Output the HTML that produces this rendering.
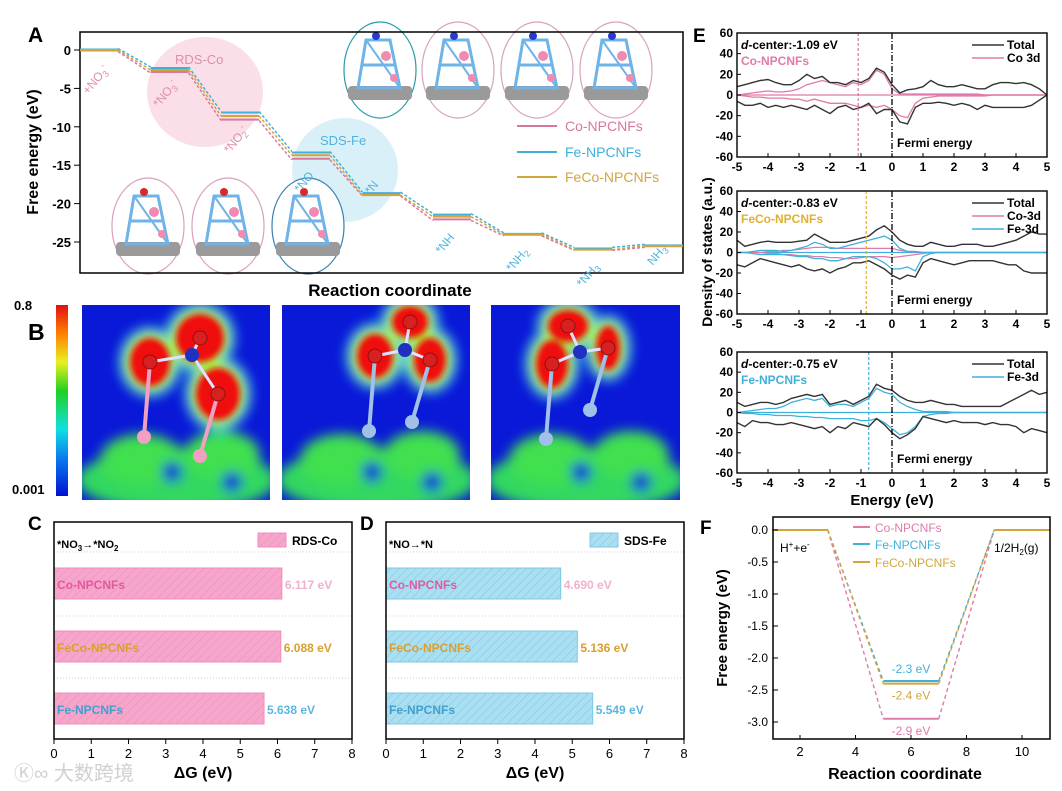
<!DOCTYPE html>
<html><head><meta charset="utf-8"><style>
html,body{margin:0;padding:0;background:#fff}
svg{display:block;font-family:"Liberation Sans","Noto Sans CJK SC",sans-serif}
.b{font-weight:bold}
</style></head><body>
<svg id="fig" xmlns="http://www.w3.org/2000/svg" width="1062" height="791" viewBox="0 0 1062 791">
<defs>
<pattern id="hatchP" patternUnits="userSpaceOnUse" width="6" height="6" patternTransform="rotate(45)"><rect width="6" height="6" fill="#f7a6cb"/><line x1="0" y1="0" x2="0" y2="6" stroke="#e98cb6" stroke-width="1"/></pattern>
<pattern id="hatchB" patternUnits="userSpaceOnUse" width="6" height="6" patternTransform="rotate(45)"><rect width="6" height="6" fill="#aadff2"/><line x1="0" y1="0" x2="0" y2="6" stroke="#78c6e4" stroke-width="1"/></pattern>
<linearGradient id="cbar" x1="0" y1="1" x2="0" y2="0">
<stop offset="0" stop-color="#0010d0"/><stop offset="0.2" stop-color="#0a7cf0"/><stop offset="0.35" stop-color="#10e0e0"/><stop offset="0.55" stop-color="#20d020"/><stop offset="0.7" stop-color="#e8f020"/><stop offset="0.85" stop-color="#ff8000"/><stop offset="1" stop-color="#e01010"/></linearGradient>
<filter id="blur6"><feGaussianBlur stdDeviation="6"/></filter>
<filter id="blur3"><feGaussianBlur stdDeviation="3"/></filter>
<clipPath id="clipA"><rect x="80" y="32" width="603" height="241"/></clipPath>
<clipPath id="cm1"><rect x="82" y="305" width="188" height="195"/></clipPath>
<clipPath id="cm2"><rect x="282" y="305" width="188" height="195"/></clipPath>
<clipPath id="cm3"><rect x="491" y="305" width="189" height="195"/></clipPath>
</defs>
<g id="panelA"></g>
<g id="panelB"></g>
<g id="panelC"></g>
<g id="panelD"></g>
<g id="panelE"></g>
<g id="panelF"></g>
<text x="14" y="780" font-size="20" fill="#d0d0d0">Ⓚ∞ 大数跨境</text>
</svg>
<script>
// ---------- DATA ----------
const stepsA = ["+NO3-","*NO3-","*NO2-","*NO","*N","*NH","*NH2","*NH3","NH3"];
const coA   = [0,-2.8,-9.0,-14.1,-18.8,-22.0,-24.0,-25.9,-25.5];
const feA   = [0,-2.4,-8.2,-13.4,-18.7,-21.5,-24.0,-25.9,-25.5];
const fecoA = [0,-2.6,-8.6,-13.7,-18.9,-21.7,-24.0,-26.0,-25.5];
const ticksA = [0,-5,-10,-15,-20,-25];

const barCats = ["Co-NPCNFs","FeCo-NPCNFs","Fe-NPCNFs"];
const barC = [6.117,6.088,5.638];
const barD = [4.690,5.136,5.549];
const barTicks = [0,1,2,3,4,5,6,7,8];

const dosX = [-5,-4.75,-4.5,-4.25,-4,-3.75,-3.5,-3.25,-3,-2.75,-2.5,-2.25,-2,-1.75,-1.5,-1.25,-1,-0.75,-0.5,-0.25,0,0.25,0.5,0.75,1,1.25,1.5,1.75,2,2.25,2.5,2.75,3,3.25,3.5,3.75,4,4.25,4.5,4.75,5];
const totUp1 = [8,10,12,14,15,12,10,10,14,20,16,18,12,12,10,14,12,16,26,22,10,2,5,6,8,14,10,8,8,10,8,6,6,10,12,12,11,12,10,6,0];
const totDn1 = [-6,-10,-10,-8,-12,-10,-12,-10,-12,-14,-10,-14,-18,-12,-10,-14,-12,-8,-18,-14,-14,-26,-28,-12,-8,-8,-7,-8,-10,-8,-10,-14,-10,-12,-12,-12,-12,-12,-10,-5,0];
const coUp1 = [0,1,2,3,4,3,3,4,6,10,12,14,12,10,8,12,10,14,24,20,6,1,1,1,1,1,1,1,1,1,1,1,0,0,0,0,0,0,0,0,0];
const coDn1 = [0,-1,-2,-2,-3,-3,-3,-4,-4,-6,-4,-6,-8,-8,-8,-10,-12,-10,-12,-10,-14,-20,-22,-8,-3,-2,-1,-1,-1,-1,-1,-1,-1,0,0,0,0,0,0,0,0];
const totUp2 = [12,6,8,10,11,10,10,10,11,12,18,14,10,10,10,12,14,16,22,26,20,12,8,6,6,10,8,6,6,8,8,8,6,6,8,10,12,16,20,18,18];
const totDn2 = [-12,-14,-10,-6,-8,-10,-12,-14,-12,-16,-18,-16,-20,-16,-14,-10,-10,-8,-12,-16,-22,-26,-22,-24,-10,-6,-8,-10,-12,-10,-8,-8,-8,-8,-10,-12,-12,-18,-20,-20,-20];
const feUp2 = [0,0,1,2,2,2,1,2,4,6,10,8,4,4,6,8,10,12,14,16,12,4,1,1,0,0,0,0,0,0,0,0,0,0,0,0,0,0,0,0,0];
const feDn2 = [0,0,-1,-2,-2,-2,-2,-3,-4,-4,-6,-6,-8,-8,-6,-4,-4,-4,-6,-10,-16,-16,-14,-18,-4,-1,0,0,0,0,0,0,0,0,0,0,0,0,0,0,0];
const coUp2 = [0,0,0,0,1,1,2,2,3,4,5,5,5,4,4,4,4,4,4,4,4,2,1,1,0,0,0,0,0,0,0,0,0,0,0,0,0,0,0,0,0];
const coDn2 = [0,0,0,0,-1,-1,-2,-2,-3,-3,-4,-4,-5,-5,-6,-6,-5,-4,-4,-4,-5,-4,-3,-2,-1,0,0,0,0,0,0,0,0,0,0,0,0,0,0,0,0];
const totUp3 = [10,6,8,10,10,8,10,14,16,18,16,18,8,10,12,8,12,16,28,24,22,16,12,10,10,12,10,8,8,6,6,6,6,6,6,10,14,18,22,18,20];
const totDn3 = [-10,-14,-8,-10,-10,-12,-12,-10,-12,-14,-16,-14,-20,-14,-16,-10,-12,-14,-6,-12,-20,-26,-22,-16,-4,-6,-8,-10,-8,-10,-10,-10,-12,-10,-12,-12,-14,-20,-16,-18,-20];
const feUp3 = [0,1,2,3,4,4,6,10,12,14,12,14,6,8,8,6,10,14,24,20,18,10,6,3,1,1,1,1,0,0,0,0,0,0,0,0,0,0,0,0,0];
const feDn3 = [0,-1,-1,-2,-2,-3,-3,-3,-4,-4,-5,-5,-6,-6,-6,-6,-8,-8,-6,-10,-16,-22,-20,-14,-4,-2,-1,-1,0,0,0,0,0,0,0,0,0,0,0,0,0];
const dCenters = [-1.09,-0.83,-0.75];
const dosYTicks = [60,40,20,0,-20,-40,-60];
const dosXTicks = [-5,-4,-3,-2,-1,0,1,2,3,4,5];

const herX = [1,3,5,7,9,11];
const herCo = [0,0,-2.95,-2.95,0,0];
const herFe = [0,0,-2.36,-2.36,0,0];
const herFeCo = [0,0,-2.4,-2.4,0,0];
const herLabels = ["-2.3 eV","-2.4 eV","-2.9 eV"];
const herYTicks = [0,-0.5,-1,-1.5,-2,-2.5,-3];
const herXTicks = [2,4,6,8,10];

// ---------- HELPERS ----------
const NS="http://www.w3.org/2000/svg";
function mk(parent,tag,attrs,text){const e=document.createElementNS(NS,tag);for(const k in attrs)e.setAttribute(k,attrs[k]);if(text!==undefined)e.innerHTML=text;parent.appendChild(e);return e;}
const PINK="#d9789f",BLUE="#3fb0da",GOLD="#d2a63a";

// ---------- PANEL A ----------
const A=document.getElementById('panelA');
const ayS=v=>50+(-v)*(192/25);
const axS=i=>80+i*70.6;
mk(A,'ellipse',{cx:205,cy:92,rx:58,ry:55,fill:"#f9dbe6",opacity:0.9});
mk(A,'ellipse',{cx:345,cy:170,rx:53,ry:52,fill:"#d6eef8",opacity:0.9});
let t;
t=mk(A,'text',{x:175,y:64,'font-size':13,fill:"#e08cb0"},"RDS-Co");

t=mk(A,'text',{x:320,y:145,'font-size':13,fill:"#4fb4dc"},"SDS-Fe");

const molTop=[[380,70,"#2a9aa8"],[458,70,"#d8a0c0"],[537,70,"#d8a0c0"],[616,70,"#d8a0c0"]];
const molBot=[[148,226,"#d8a0c0"],[228,226,"#d8a0c0"],[308,226,"#3a7fb0"]];
[...molTop,...molBot].forEach((m,i)=>{
  const g=mk(A,'g',{});
  
  
  mk(g,'ellipse',{cx:m[0],cy:m[1],rx:36,ry:48,fill:"#fff",stroke:m[2],'stroke-width':1.2});
  mk(g,'rect',{x:m[0]-32,y:m[1]+16,width:64,height:14,fill:"#9a9a9a",rx:4});
  mk(g,'polygon',{points:`${m[0]-22},${m[1]+18} ${m[0]-14},${m[1]-30} ${m[0]+10},${m[1]-30} ${m[0]+20},${m[1]+18}`,fill:"none",stroke:"#6fb4e8",'stroke-width':3});
  mk(g,'line',{x1:m[0]-18,y1:m[1]-5,x2:m[0]+16,y2:m[1]-5,stroke:"#6fb4e8",'stroke-width':3});
  mk(g,'line',{x1:m[0]-14,y1:m[1]-30,x2:m[0]+20,y2:m[1]+18,stroke:"#6fb4e8",'stroke-width':2});
  mk(g,'circle',{cx:m[0]+6,cy:m[1]-14,r:5,fill:"#ef8ab0"});
  mk(g,'circle',{cx:m[0]+14,cy:m[1]+8,r:4,fill:"#ef8ab0"});
  mk(g,'circle',{cx:m[0]-4,cy:m[1]-34,r:4,fill:i>=4?"#d82a2a":"#2a3ad0"});
});
mk(A,'rect',{x:80,y:32,width:603,height:241,fill:"none",stroke:"#000",'stroke-width':1.5});
ticksA.forEach(v=>{
  mk(A,'line',{x1:74,y1:ayS(v),x2:80,y2:ayS(v),stroke:"#000"});
  t=mk(A,'text',{x:71,y:ayS(v)+5,'font-size':13,'text-anchor':'end',class:'b'},v);
  
});
const gA=mk(A,'g',{'clip-path':'url(#clipA)'});
[[coA,PINK,1.5],[feA,BLUE,-1.5],[fecoA,GOLD,0]].forEach(([s,c,o])=>{
  for(let i=0;i<s.length;i++){
    const l=mk(gA,'line',{x1:axS(i),y1:ayS(s[i])+o*0.3,x2:axS(i)+38,y2:ayS(s[i])+o*0.3,stroke:c,'stroke-width':2});
    
    if(i<s.length-1){
      const d=mk(gA,'line',{x1:axS(i)+38,y1:ayS(s[i])+o,x2:axS(i+1),y2:ayS(s[i+1])+o,stroke:c,'stroke-width':1.5,'stroke-dasharray':'3,2'});
      
    }
  }
});
const stepLabelsA=["+NO<tspan dy='3' font-size='9'>3</tspan><tspan dy='-8' font-size='9'>-</tspan>","*NO<tspan dy='3' font-size='9'>3</tspan><tspan dy='-8' font-size='9'>-</tspan>","*NO<tspan dy='3' font-size='9'>2</tspan><tspan dy='-8' font-size='9'>-</tspan>","*NO","*N","*NH","*NH<tspan dy='3' font-size='9'>2</tspan>","*NH<tspan dy='3' font-size='9'>3</tspan>","NH<tspan dy='3' font-size='9'>3</tspan>"];
stepLabelsA.forEach((s,i)=>{
  const x=axS(i)+8, y=ayS(fecoA[i])+ (i==0?45:i==8?20:i==4?-0:38);
  t=mk(A,'text',{x:x,y:y,'font-size':12,fill:i<3?"#e08cb0":"#4fb4dc",transform:`rotate(-50 ${x} ${y})`},s);
  
});
[["Co-NPCNFs",PINK,126],["Fe-NPCNFs",BLUE,152],["FeCo-NPCNFs",GOLD,177]].forEach(([n,c,y])=>{
  const g=mk(A,'g',{});
  mk(g,'line',{x1:517,y1:y,x2:557,y2:y,stroke:c,'stroke-width':2});
  mk(g,'text',{x:565,y:y+5,'font-size':14,fill:c},n);
});
t=mk(A,'text',{x:0,y:0,'font-size':16,class:'b',transform:'translate(38,152) rotate(-90)','text-anchor':'middle'},"Free energy (eV)");

t=mk(A,'text',{x:390,y:296,'font-size':17,class:'b','text-anchor':'middle'},"Reaction coordinate");

mk(A,'text',{x:28,y:42,'font-size':21,class:'b'},"A");

// ---------- PANEL B ----------
const B=document.getElementById('panelB');
mk(B,'rect',{x:56,y:305,width:12,height:191,fill:'url(#cbar)'});
mk(B,'text',{x:14,y:310,'font-size':13,class:'b'},"0.8");
mk(B,'text',{x:12,y:494,'font-size':13,class:'b'},"0.001");
mk(B,'text',{x:28,y:340,'font-size':23,class:'b'},"B");
const maps=[
 [82,"cm1",[[200,338,24,24],[150,362,20,24],[218,394,22,26]],"#f0a0c0",[192,355]],
 [282,"cm2",[[410,322,18,16],[375,356,18,22],[430,360,16,22]],"#a0c0e8",[405,350]],
 [491,"cm3",[[568,326,20,16],[552,364,16,24],[608,348,12,22]],"#a0c0e8",[580,352]]];
maps.forEach(([x0,cp,lobes,ac,nc])=>{
  const g=mk(B,'g',{'clip-path':`url(#${cp})`});
  
  mk(g,'rect',{x:x0,y:305,width:189,height:195,fill:"#0a18d8"});
  const gb=mk(g,'g',{filter:'url(#blur6)'});
  mk(gb,'ellipse',{cx:x0+95,cy:480,rx:100,ry:32,fill:"#30d860"});
  mk(gb,'ellipse',{cx:x0+60,cy:460,rx:42,ry:26,fill:"#40e050"});
  mk(gb,'ellipse',{cx:x0+140,cy:455,rx:38,ry:24,fill:"#40e050"});
  mk(gb,'circle',{cx:x0+90,cy:472,r:10,fill:"#0a18d8"});
  mk(gb,'circle',{cx:x0+150,cy:482,r:10,fill:"#0a18d8"});
  lobes.forEach(([cx,cy,rx,ry])=>mk(gb,'ellipse',{cx:cx,cy:cy,rx:rx+11,ry:ry+11,fill:"#20c8e0"}));
  lobes.forEach(([cx,cy,rx,ry])=>mk(gb,'ellipse',{cx:cx,cy:cy,rx:rx+5,ry:ry+5,fill:"#b0f020"}));
  const gr=mk(g,'g',{filter:'url(#blur3)'});
  lobes.forEach(([cx,cy,rx,ry])=>mk(gr,'ellipse',{cx:cx,cy:cy,rx:rx,ry:ry,fill:"#f01010"}));
  mk(g,'line',{x1:lobes[1][0],y1:lobes[1][1],x2:lobes[1][0]-6,y2:lobes[1][1]+75,stroke:ac,'stroke-width':4});
  mk(g,'circle',{cx:lobes[1][0]-6,cy:lobes[1][1]+75,r:7,fill:ac});
  mk(g,'line',{x1:lobes[2][0],y1:lobes[2][1],x2:lobes[2][0]-18,y2:lobes[2][1]+62,stroke:ac,'stroke-width':4});
  mk(g,'circle',{cx:lobes[2][0]-18,cy:lobes[2][1]+62,r:7,fill:ac});
  lobes.forEach(([cx,cy])=>mk(g,'line',{x1:nc[0],y1:nc[1],x2:cx,y2:cy,stroke:"#e0e0ff",'stroke-width':3}));
  mk(g,'circle',{cx:nc[0],cy:nc[1],r:7,fill:"#2030c0"});
  lobes.forEach(([cx,cy])=>mk(g,'circle',{cx:cx,cy:cy,r:7,fill:"#d82020",stroke:"#901010"}));
});

// ---------- PANELS C & D ----------
function barPanel(el,x0,x1,vals,fill,legend,title,letter){
  const xs=v=>x0+(x1-x0)*v/8;
  const y0=522,y1=739;
  const cat=[["#e05aa0",568],["#d8a030",631],["#3fa0d0",693]];
  vals.forEach((v,i)=>{
    const r=mk(el,'rect',{x:xs(0),y:cat[i][1],width:xs(v)-xs(0),height:31,fill:fill,stroke:fill=="url(#hatchP)"?"#f08cbc":"#7cc8e6"});
    
    mk(el,'text',{x:xs(0)+3,y:cat[i][1]+21,'font-size':12,class:'b',fill:cat[i][0]},barCats[i]);
    const tv=mk(el,'text',{x:xs(v)+3,y:cat[i][1]+21,'font-size':12,class:'b',fill:i==0?"#f0b0d0":i==1?"#d8a030":"#5ab8e0"},v.toFixed(3)+" eV");
    
  });
  [552,616,678].forEach(y=>mk(el,'line',{x1:x0,y1:y,x2:x1,y2:y,stroke:"#ccc",'stroke-dasharray':'1,2'}));
  mk(el,'rect',{x:x0,y:y0,width:x1-x0,height:y1-y0,fill:"none",stroke:"#000",'stroke-width':1.5});
  barTicks.forEach(v=>{
    mk(el,'line',{x1:xs(v),y1:y1,x2:xs(v),y2:y1+5,stroke:"#000"});
    const tt=mk(el,'text',{x:xs(v),y:y1+19,'font-size':13,'text-anchor':'middle'},v);
    
  });
  mk(el,'rect',{x:x1-94,y:533,width:28,height:14,fill:fill,stroke:fill=="url(#hatchP)"?"#f08cbc":"#7cc8e6"});
  mk(el,'text',{x:x1-60,y:545,'font-size':12,class:'b'},legend);
  mk(el,'text',{x:x0+3,y:548,'font-size':11,class:'b'},title);
  const at=mk(el,'text',{x:(x0+x1)/2,y:778,'font-size':16,class:'b','text-anchor':'middle'},"ΔG (eV)");
  
  mk(el,'text',{x:x0-26,y:530,'font-size':19,class:'b'},letter);
}
barPanel(document.getElementById('panelC'),54,352,barC,"url(#hatchP)","RDS-Co","*NO<tspan dy='3' font-size='8'>3</tspan><tspan dy='-3'>→*NO</tspan><tspan dy='3' font-size='8'>2</tspan>","C");
barPanel(document.getElementById('panelD'),386,684,barD,"url(#hatchB)","SDS-Fe","*NO→*N","D");

// ---------- PANEL E ----------
const E=document.getElementById('panelE');
const ex=v=>737+(v+5)*31;
const subs=[
 {top:33,bot:157,tot:[totUp1,totDn1],parts:[[coUp1,coDn1,"#e07aa8"]],dc:dCenters[0],dcC:"#d07aa8",name:"Co-NPCNFs",nameC:"#e07aa8",leg:[["Total","#333"],["Co 3d","#e07aa8"]]},
 {top:191,bot:314,tot:[totUp2,totDn2],parts:[[coUp2,coDn2,"#e07aa8"],[feUp2,feDn2,"#3fb0da"]],dc:dCenters[1],dcC:"#e0b030",name:"FeCo-NPCNFs",nameC:"#e0b030",leg:[["Total","#333"],["Co-3d","#e07aa8"],["Fe-3d","#3fb0da"]]},
 {top:352,bot:473,tot:[totUp3,totDn3],parts:[[feUp3,feDn3,"#3fb0da"]],dc:dCenters[2],dcC:"#3fb0da",name:"Fe-NPCNFs",nameC:"#3fb0da",leg:[["Total","#333"],["Fe-3d","#3fb0da"]]}
];
subs.forEach((s,k)=>{
  const g=mk(E,'g',{});
  const ys=v=>s.top+(60-v)*(s.bot-s.top)/120;
  const path=arr=>arr.map((v,i)=>(i?'L':'M')+ex(dosX[i]).toFixed(1)+','+ys(v).toFixed(1)).join('');
  mk(g,'line',{x1:737,y1:ys(0),x2:1047,y2:ys(0),stroke:s.parts[s.parts.length-1][2],'stroke-width':1.2});
  s.parts.forEach(([u,d,c])=>{
    const p1=mk(g,'path',{d:path(u),fill:"none",stroke:c,'stroke-width':1.3});
    const p2=mk(g,'path',{d:path(d),fill:"none",stroke:c,'stroke-width':1.3});
  });
  const t1=mk(g,'path',{d:path(s.tot[0]),fill:"none",stroke:"#333",'stroke-width':1.4});
  const t2=mk(g,'path',{d:path(s.tot[1]),fill:"none",stroke:"#333",'stroke-width':1.4});
  const dl=mk(g,'line',{x1:ex(s.dc),y1:s.top,x2:ex(s.dc),y2:s.bot,stroke:s.dcC,'stroke-dasharray':'3,2','stroke-width':1.2});
  
  mk(g,'line',{x1:ex(0),y1:s.top,x2:ex(0),y2:s.bot,stroke:"#000",'stroke-dasharray':'6,2,1,2','stroke-width':1.3});
  mk(g,'rect',{x:737,y:s.top,width:310,height:s.bot-s.top,fill:"none",stroke:"#000",'stroke-width':1.4});
  dosYTicks.forEach(v=>{
    mk(g,'line',{x1:737,y1:ys(v),x2:741,y2:ys(v),stroke:"#000"});
    const tt=mk(g,'text',{x:733,y:ys(v)+4,'font-size':12,class:'b','text-anchor':'end'},v);
    
  });
  dosXTicks.forEach(v=>{
    mk(g,'line',{x1:ex(v),y1:s.bot,x2:ex(v),y2:s.bot-4,stroke:"#000"});
    const tt=mk(g,'text',{x:ex(v),y:s.bot+14,'font-size':12,class:'b','text-anchor':'middle'},v);
    
  });
  mk(g,'text',{x:741,y:s.top+16,'font-size':12,class:'b'},"<tspan font-style='italic'>d</tspan>-center:"+s.dc.toFixed(2)+" eV");
  mk(g,'text',{x:741,y:s.top+32,'font-size':12,class:'b',fill:s.nameC},s.name);
  mk(g,'text',{x:ex(0)+5,y:s.bot-10,'font-size':12,class:'b'},"Fermi energy");
  s.leg.forEach(([n,c],j)=>{
    const lg=mk(g,'g',{});
    mk(lg,'line',{x1:972,y1:s.top+12+j*13,x2:1004,y2:s.top+12+j*13,stroke:c,'stroke-width':1.5});
    mk(lg,'text',{x:1007,y:s.top+16+j*13,'font-size':12,class:'b'},n);
  });
});
t=mk(E,'text',{x:0,y:0,'font-size':14,class:'b','text-anchor':'middle',transform:'translate(712,252) rotate(-90)'},"Density of states (a.u.)");

t=mk(E,'text',{x:892,y:505,'font-size':15,class:'b','text-anchor':'middle'},"Energy (eV)");

mk(E,'text',{x:693,y:42,'font-size':19,class:'b'},"E");

// ---------- PANEL F ----------
const F=document.getElementById('panelF');
const fx=v=>800+(v-2)*27.75;
const fy=v=>530+(-v)*64;
[[herCo,"#e07aa8"],[herFe,"#3fb0da"],[herFeCo,"#d2a63a"]].forEach(([s,c])=>{
  for(let i=0;i<s.length-1;i++){
    const solid=(i%2==0);
    const l=mk(F,'line',{x1:fx(herX[i]),y1:fy(s[i]),x2:fx(herX[i+1]),y2:fy(s[i+1]),stroke:c,'stroke-width':solid?2:1.4,'stroke-dasharray':solid?'none':'4,3'});
    
  }
});
mk(F,'rect',{x:773,y:517,width:277,height:222,fill:"none",stroke:"#000",'stroke-width':1.5});
herYTicks.forEach(v=>{
  mk(F,'line',{x1:773,y1:fy(v),x2:778,y2:fy(v),stroke:"#000"});
  const tt=mk(F,'text',{x:768,y:fy(v)+4,'font-size':12,'text-anchor':'end'},v.toFixed(1));
  
});
herXTicks.forEach(v=>{
  mk(F,'line',{x1:fx(v),y1:739,x2:fx(v),y2:735,stroke:"#000"});
  const tt=mk(F,'text',{x:fx(v),y:756,'font-size':13,'text-anchor':'middle'},v);
  
});
[["Co-NPCNFs","#e07aa8",527],["Fe-NPCNFs","#3fb0da",544],["FeCo-NPCNFs","#d2a63a",562]].forEach(([n,c,y])=>{
  const g=mk(F,'g',{});
  mk(g,'line',{x1:853,y1:y,x2:870,y2:y,stroke:c,'stroke-width':2});
  mk(g,'text',{x:875,y:y+5,'font-size':12,fill:c},n);
});
mk(F,'text',{x:780,y:552,'font-size':12},"H<tspan dy='-5' font-size='8'>+</tspan><tspan dy='5'>+e</tspan><tspan dy='-5' font-size='8'>-</tspan>");
mk(F,'text',{x:994,y:552,'font-size':12},"1/2H<tspan dy='3' font-size='8'>2</tspan><tspan dy='-3'>(g)</tspan>");
[["#3fb0da",herFe,-8],["#d2a63a",herFeCo,16],["#e07aa8",herCo,16]].forEach(([c,s,o],i)=>{
  const tt=mk(F,'text',{x:fx(6),y:fy(s[2])+o,'font-size':12,fill:c,'text-anchor':'middle'},herLabels[i]);
  
});
t=mk(F,'text',{x:0,y:0,'font-size':15,class:'b','text-anchor':'middle',transform:'translate(727,628) rotate(-90)'},"Free energy (eV)");

t=mk(F,'text',{x:905,y:779,'font-size':16,class:'b','text-anchor':'middle'},"Reaction coordinate");

mk(F,'text',{x:700,y:534,'font-size':19,class:'b'},"F");
</script>
</body></html>
